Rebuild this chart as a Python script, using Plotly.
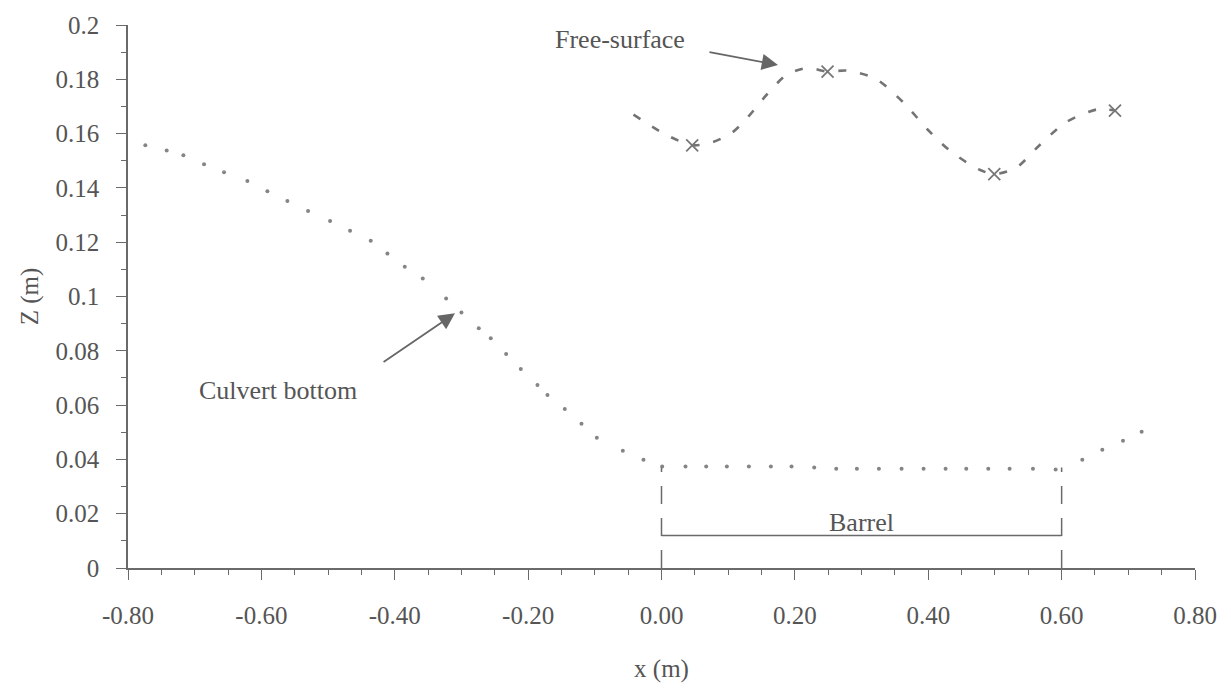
import plotly.graph_objects as go

# ---- data ----
culvert_x = [-0.774, -0.742, -0.717, -0.686, -0.656, -0.621, -0.591, -0.561, -0.530, -0.497,
             -0.467, -0.436, -0.411, -0.385, -0.358, -0.323, -0.300, -0.274, -0.256, -0.233,
             -0.211, -0.186, -0.171, -0.145, -0.120, -0.097, -0.058, -0.027, 0.001, 0.036,
             0.067, 0.098, 0.131, 0.164, 0.195, 0.229, 0.262, 0.293, 0.326, 0.360,
             0.393, 0.426, 0.457, 0.490, 0.522, 0.557, 0.591, 0.631, 0.661, 0.692, 0.720]
culvert_z = [0.1557, 0.1538, 0.1520, 0.1487, 0.1458, 0.1425, 0.1388, 0.1352, 0.1315, 0.1278,
             0.1242, 0.1205, 0.1158, 0.1110, 0.1066, 0.0993, 0.0941, 0.0883, 0.0846, 0.0788,
             0.0733, 0.0674, 0.0637, 0.0586, 0.0531, 0.0480, 0.0432, 0.0399, 0.0374, 0.0374,
             0.0374, 0.0374, 0.0374, 0.0374, 0.0374, 0.0370, 0.0366, 0.0366, 0.0366, 0.0366,
             0.0366, 0.0366, 0.0366, 0.0366, 0.0366, 0.0366, 0.0363, 0.0399, 0.0436, 0.0469, 0.0502]

surface_x = [-0.042, 0.006, 0.046, 0.076, 0.106, 0.129, 0.158, 0.188, 0.219, 0.249, 0.278,
             0.321, 0.363, 0.399, 0.432, 0.475, 0.499, 0.531, 0.568, 0.606, 0.653, 0.680]
surface_z = [0.1670, 0.1597, 0.1557, 0.1568, 0.1604, 0.1659, 0.1744, 0.1817, 0.1842, 0.1828, 0.1832,
             0.1802, 0.1714, 0.1615, 0.1538, 0.1469, 0.1451, 0.1473, 0.1560, 0.1641, 0.1689, 0.1685]

measured_x = [0.046, 0.249, 0.499, 0.680]
measured_z = [0.1557, 0.1828, 0.1451, 0.1685]

barrel_x = [0.0, 0.6]
barrel_line_z = 0.012
barrel_wall_top = 0.037

x_tickvals = [-0.8, -0.6, -0.4, -0.2, 0.0, 0.2, 0.4, 0.6, 0.8]
x_ticktext = ["-0.80", "-0.60", "-0.40", "-0.20", "0.00", "0.20", "0.40", "0.60", "0.80"]
y_tickvals = [0, 0.02, 0.04, 0.06, 0.08, 0.1, 0.12, 0.14, 0.16, 0.18, 0.2]
y_ticktext = ["0", "0.02", "0.04", "0.06", "0.08", "0.1", "0.12", "0.14", "0.16", "0.18", "0.2"]

FONT = "Liberation Serif"
TXT = "#555555"
INK = "#6a6a6a"

fig = go.Figure()

fig.add_trace(go.Scatter(x=culvert_x, y=culvert_z, mode="markers",
                         marker=dict(size=4, color="#858585"),
                         name="Culvert bottom", showlegend=False))

fig.add_trace(go.Scatter(x=surface_x, y=surface_z, mode="lines",
                         line=dict(shape="spline", smoothing=0.8, dash="8px,14px",
                                   width=2.6, color="#747474"),
                         name="Free-surface", showlegend=False))

fig.add_trace(go.Scatter(x=measured_x, y=measured_z, mode="markers",
                         marker=dict(symbol="x-thin", size=12,
                                     line=dict(width=1.8, color="#777777")),
                         name="Measured", showlegend=False))

# Barrel walls (dashed) and barrel span line
for bx in barrel_x:
    fig.add_shape(type="line", x0=bx, x1=bx, y0=0, y1=barrel_wall_top,
                  xref="x", yref="y", line=dict(color=INK, width=1.5, dash="18px,14px"))
fig.add_shape(type="line", x0=barrel_x[0], x1=barrel_x[1], y0=barrel_line_z, y1=barrel_line_z,
              xref="x", yref="y", line=dict(color=INK, width=1.5))

ann_font = dict(family=FONT, size=26, color=TXT)
fig.add_annotation(x=-0.062, y=0.1945, text="Free-surface", showarrow=False,
                   xanchor="center", yanchor="middle", font=ann_font)
fig.add_annotation(x=0.1747, y=0.1853, ax=0.0697, ay=0.1901, axref="x", ayref="y",
                   text="", showarrow=True, arrowhead=2, arrowsize=1.8, arrowwidth=1.8,
                   arrowcolor="#666666")
fig.add_annotation(x=-0.575, y=0.0652, text="Culvert bottom", showarrow=False,
                   xanchor="center", yanchor="middle", font=ann_font)
fig.add_annotation(x=-0.3097, y=0.0938, ax=-0.419, ay=0.0755, axref="x", ayref="y",
                   text="", showarrow=True, arrowhead=2, arrowsize=1.8, arrowwidth=1.8,
                   arrowcolor="#666666")
fig.add_annotation(x=0.3006, y=0.0168, text="Barrel", showarrow=False,
                   xanchor="center", yanchor="middle", font=ann_font)

axis_common = dict(showgrid=False, zeroline=False, showline=True, linecolor=INK, linewidth=1.5,
                   ticks="outside", ticklen=10, tickwidth=1.3, tickcolor=INK,
                   tickfont=dict(family=FONT, size=25, color=TXT))

fig.update_xaxes(range=[-0.8, 0.8], tickvals=x_tickvals, ticktext=x_ticktext,
                 minor=dict(dtick=0.05, tick0=0, ticks="outside", ticklen=5, tickcolor=INK, tickwidth=1),
                 ticklabelstandoff=14,
                 title=dict(text="x (m)", font=dict(family=FONT, size=25, color=TXT), standoff=32),
                 **axis_common)
fig.update_yaxes(range=[0, 0.2], tickvals=y_tickvals, ticktext=y_ticktext,
                 minor=dict(dtick=0.01, tick0=0, ticks="outside", ticklen=5, tickcolor=INK, tickwidth=1),
                 ticklabelstandoff=12,
                 title=dict(text="Z (m)", font=dict(family=FONT, size=25, color=TXT), standoff=10),
                 **axis_common)

fig.update_layout(width=1231, height=695, margin=dict(l=128, r=36, t=22, b=127),
                  plot_bgcolor="white", paper_bgcolor="white", showlegend=False)

fig.write_html("out.html")
